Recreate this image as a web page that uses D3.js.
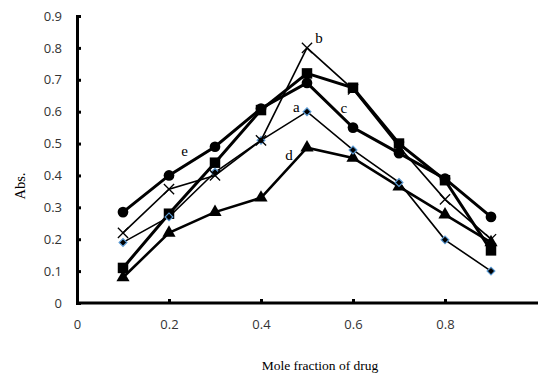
<!DOCTYPE html>
<html>
<head>
<meta charset="utf-8">
<script src="https://cdn.jsdelivr.net/npm/d3@7"></script>
<style>
  body { margin: 0; background: #fff; }
  svg { display: block; }
</style>
</head>
<body>
<script>
// mole fractions on the x axis
const fractions = [0.1, 0.2, 0.3, 0.4, 0.5, 0.6, 0.7, 0.8, 0.9];

// absorbance, one array per curve
const seriesCircle = [0.285, 0.40, 0.49, 0.61, 0.69, 0.55, 0.47, 0.39, 0.27];
const seriesSquare = [0.11, 0.28, 0.44, 0.605, 0.72, 0.675, 0.50, 0.385, 0.165];
const seriesTriangle = [0.08, 0.22, 0.285, 0.33, 0.487, 0.455, 0.365, 0.277, 0.19];
const seriesDiamond = [0.19, 0.27, 0.41, 0.51, 0.60, 0.48, 0.378, 0.198, 0.10];
const seriesCross = [0.22, 0.357, 0.40, 0.51, 0.80, 0.67, 0.49, 0.325, 0.20];

const yTicks = [0, 0.1, 0.2, 0.3, 0.4, 0.5, 0.6, 0.7, 0.8, 0.9];
const xTicks = [0, 0.2, 0.4, 0.6, 0.8];

// curve labels: [text, x value, y value]
const curveLabels = [
    ["a", 0.477, 0.60],
    ["b", 0.526, 0.816],
    ["c", 0.58, 0.596],
    ["d", 0.461, 0.45],
    ["e", 0.234, 0.461]
];

const width = 538;
const height = 374;

const svg = d3.select("body")
    .append("svg")
    .attr("width", width)
    .attr("height", height);

const xScale = d3.scaleLinear().domain([0, 1]).range([77, 537]);
const yScale = d3.scaleLinear().domain([0, 0.9]).range([303, 16]);

// Y axis
const yAxis = svg.append("g")
    .attr("transform", "translate(" + xScale(0) + ",0)")
    .call(d3.axisRight(yScale).tickValues(yTicks).tickSize(4).tickFormat(d3.format("")));
yAxis.select(".domain").attr("stroke-width", 3);
yAxis.selectAll(".tick line").attr("stroke-width", 3);
yAxis.selectAll(".tick text")
    .attr("x", -15)
    .attr("text-anchor", "end")
    .style("font-family", "'Open Sans', sans-serif")
    .style("font-size", "13px")
    .attr("fill", "#333");

// X axis
const xAxis = svg.append("g")
    .attr("transform", "translate(0," + yScale(0) + ")")
    .call(d3.axisTop(xScale).tickValues(xTicks).tickSize(4).tickFormat(d3.format("")));
xAxis.select(".domain").attr("stroke-width", 3);
xAxis.selectAll(".tick line").attr("stroke-width", 3);
xAxis.selectAll(".tick text")
    .attr("y", 21)
    .attr("dy", "0.35em")
    .style("font-family", "'Open Sans', sans-serif")
    .style("font-size", "13px")
    .attr("fill", "#333");
xAxis.select(".domain").attr("d", "M" + xScale(0) + ",0H" + width);

const line = d3.line()
    .x(function (d) { return xScale(d[0]); })
    .y(function (d) { return yScale(d[1]); });

function drawSeries(values, opts) {
    const pts = fractions.map(function (f, i) { return [f, values[i]]; });
    svg.append("path")
        .datum(pts)
        .attr("fill", "none")
        .attr("stroke", "#000")
        .attr("stroke-width", opts.lineWidth)
        .attr("d", line);
    svg.append("g")
        .selectAll("path")
        .data(pts)
        .enter().append("path")
        .attr("transform", function (d) {
            return "translate(" + xScale(d[0]) + "," + yScale(d[1]) + ")" + (opts.rotate ? " rotate(45)" : "");
        })
        .attr("d", d3.symbol().type(opts.symbol).size(opts.size))
        .attr("fill", opts.fill)
        .attr("stroke", opts.stroke)
        .attr("stroke-width", opts.strokeWidth);
}

drawSeries(seriesCircle, {symbol: d3.symbolCircle, size: 90, lineWidth: 3, fill: "#000", stroke: "none", strokeWidth: 0});
drawSeries(seriesSquare, {symbol: d3.symbolSquare, size: 110, lineWidth: 3, fill: "#000", stroke: "none", strokeWidth: 0});
drawSeries(seriesTriangle, {symbol: d3.symbolTriangle, size: 75, lineWidth: 2.6, fill: "#000", stroke: "none", strokeWidth: 0});
drawSeries(seriesDiamond, {symbol: d3.symbolSquare, size: 30, rotate: true, lineWidth: 1.6, fill: "#000", stroke: "#5b9bd5", strokeWidth: 1.2});
drawSeries(seriesCross, {symbol: d3.symbolTimes, size: 70, lineWidth: 1.6, fill: "none", stroke: "#000", strokeWidth: 1.3});

// curve letters
svg.append("g")
    .selectAll("text")
    .data(curveLabels)
    .enter().append("text")
    .attr("x", function (d) { return xScale(d[1]); })
    .attr("y", function (d) { return yScale(d[2]); })
    .attr("text-anchor", "middle")
    .style("font-family", "'Liberation Serif', serif")
    .style("font-size", "15px")
    .text(function (d) { return d[0]; });

// axis titles
svg.append("text")
    .attr("x", 320)
    .attr("y", 370)
    .attr("text-anchor", "middle")
    .style("font-family", "'Liberation Serif', serif")
    .style("font-size", "13.5px")
    .text("Mole fraction of drug");

svg.append("text")
    .attr("transform", "translate(25,186) rotate(-90)")
    .attr("text-anchor", "middle")
    .style("font-family", "'Liberation Serif', serif")
    .style("font-size", "14.5px")
    .text("Abs.");
</script>
</body>
</html>
